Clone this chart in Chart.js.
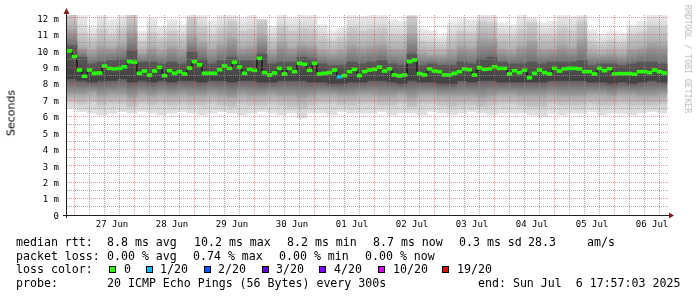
<!DOCTYPE html>
<html><head><meta charset="utf-8">
<script src="https://cdn.jsdelivr.net/npm/chart.js@4/dist/chart.umd.min.js"></script>
<style>
html,body{margin:0;padding:0;background:#fff;}
#wrap{position:relative;width:697px;height:297px;overflow:hidden;background:#fff;}
canvas{position:absolute;left:0;top:0;}
.t{position:absolute;white-space:pre;font-family:'DejaVu Sans Mono',monospace;font-size:11.6px;line-height:14px;color:#000;}
.sq{position:absolute;width:7px;height:7px;box-sizing:border-box;border:1px solid #000;}
#ylab{position:absolute;left:11px;top:113px;transform:translate(-50%,-50%) rotate(-90deg);font-family:'DejaVu Sans',sans-serif;font-size:11px;white-space:nowrap;color:#000;}
#wm{position:absolute;left:688px;top:59px;transform:translate(-50%,-50%) rotate(90deg);font-family:'DejaVu Sans Mono',monospace;font-size:8.2px;white-space:nowrap;color:#b8b8b8;}
</style></head><body>
<div id="wrap">
<canvas id="c" width="697" height="297"></canvas>
<div id="ylab">Seconds</div>
<div id="wm">RRDTOOL / TOBI OETIKER</div>
<div class="t" style="left:16px;top:234.5px">median rtt:</div>
<div class="t" style="left:107px;top:234.5px">8.8 ms avg</div>
<div class="t" style="left:194px;top:234.5px">10.2 ms max</div>
<div class="t" style="left:287px;top:234.5px">8.2 ms min</div>
<div class="t" style="left:373px;top:234.5px">8.7 ms now</div>
<div class="t" style="left:459px;top:234.5px">0.3 ms sd</div>
<div class="t" style="left:528px;top:234.5px">28.3</div>
<div class="t" style="left:587px;top:234.5px">am/s</div>
<div class="t" style="left:16px;top:248.5px">packet loss:</div>
<div class="t" style="left:107px;top:248.5px">0.00 % avg</div>
<div class="t" style="left:193px;top:248.5px">0.74 % max</div>
<div class="t" style="left:279px;top:248.5px">0.00 % min</div>
<div class="t" style="left:365px;top:248.5px">0.00 % now</div>
<div class="t" style="left:16px;top:262px">loss color:</div>
<div id="lossKey"></div>
<div class="t" style="left:16px;top:275.5px">probe:</div>
<div class="t" style="left:107px;top:275.5px">20 ICMP Echo Pings (56 Bytes) every 300s</div>
<div class="t" style="left:478px;top:275.5px">end: Sun Jul  6 17:57:03 2025</div>
</div>
<script>
// ---- data (hours since 26 Jun 18:00) ----
const dayLabels = ['27 Jun','28 Jun','29 Jun','30 Jun','01 Jul','02 Jul','03 Jul','04 Jul','05 Jul','06 Jul'];
const yTickLabels = ['0','1 m','2 m','3 m','4 m','5 m','6 m','7 m','8 m','9 m','10 m','11 m','12 m'];

// median rtt (ms), one value per 2 h
const medianMs = [
 10.0,9.65,8.83,8.45,8.83,8.63,8.65,9.07,8.93,8.9,8.93,9.03,9.34,9.3,8.63,8.77,8.53,8.77,8.99,8.49,8.79,8.63,8.73,8.59,8.95,9.34,9.15,8.63,8.63,8.63,
 8.85,9.07,8.93,9.3,9.01,8.63,8.87,8.81,9.54,8.67,8.53,8.65,8.93,8.59,8.93,8.73,9.24,9.18,8.81,9.24,8.59,8.63,8.67,8.83,8.42,8.49,8.73,8.87,8.49,8.73,8.83,
 8.87,9.0,8.77,8.9,8.53,8.47,8.53,9.34,9.44,8.61,8.53,8.9,8.77,8.73,8.53,8.53,8.63,8.73,8.9,8.85,8.53,8.97,8.87,8.9,9.03,8.93,8.93,8.59,8.79,8.67,
 8.81,8.36,8.63,8.83,8.67,8.59,8.93,8.77,8.9,8.93,8.93,8.9,8.73,8.73,8.59,8.93,8.79,8.91,8.59,8.61,8.61,8.61,8.57,8.73,8.73,8.67,8.83,8.73,8.65
];
// lost pings (of 20), one value per 2 h
const lossCount = [
 0,0,0,0,0,0,0,0,0,0,0,0,0,0,0,0,0,0,0,0,0,0,0,0,0,0,0,0,0,0,
 0,0,0,0,0,0,0,0,0,0,0,0,0,0,0,0,0,0,0,0,0,0,0,0,1,0,0,0,0,0,
 0,0,0,0,0,0,0,0,0,0,0,0,0,0,0,0,0,0,0,0,0,0,0,0,0,0,0,0,0,0,
 0,0,0,0,0,0,0,0,0,0,0,0,0,0,0,0,0,0,0,0,0,0,0,0,0,0,0,0,0,0
];

// smoke (ping distribution, ms), one value per 4 h
const smokeMax = [
 12.2,12.2,11.4,12.2,11.9,12.2,12.2,11.2,12.0,11.5,11.9,11.6,12.2,12.2,11.8,
 12.2,12.2,12.0,12.2,11.6,11.5,12.2,12.0,12.2,12.2,11.6,11.2,11.4,12.2,12.1,
 12.2,12.2,11.9,11.8,12.2,11.3,11.2,10.9,11.7,12.0,11.9,12.2,12.2,11.7,11.6,
 12.2,12.0,11.7,11.8,12.2,12.1,12.2,11.3,11.0,11.2,11.1,11.6,11.8,12.2,12.2
];
const smokeHi1 = [
 12.2,11.1,10.8,11.3,11.0,11.4,12.2,10.6,11.1,10.8,11.2,10.9,12.0,11.5,11.0,
 11.4,11.8,11.2,11.3,11.9,10.8,11.5,11.2,11.4,11.3,10.9,10.6,10.8,11.4,11.2,
 11.3,11.4,11.0,11.0,12.1,10.6,10.5,10.4,10.9,11.2,11.1,11.8,11.7,11.0,10.9,
 11.3,11.7,11.0,11.0,11.4,11.2,11.8,10.6,10.4,10.6,10.5,11.0,11.1,11.5,11.4
];
const smokeHi2 = [
 11.3,10.2,10.0,10.3,10.2,10.4,11.2,9.9,10.2,10.0,10.3,10.1,10.9,10.5,10.1,
 10.4,10.8,10.2,10.3,10.9,10.0,10.5,10.2,10.4,10.3,10.0,9.9,10.0,10.4,10.2,
 10.3,10.4,10.1,10.1,11.0,9.9,9.8,9.8,10.0,10.3,10.2,10.8,10.7,10.1,10.0,
 10.3,10.6,10.1,10.1,10.4,10.2,10.7,9.9,9.8,9.9,9.8,10.1,10.2,10.5,10.4
];
const smokeCoreHi = [
 10.3,9.6,9.2,9.3,9.4,9.5,10.0,9.3,9.3,9.2,9.3,9.2,9.9,9.5,9.2,
 9.4,9.6,9.4,9.4,9.8,9.2,9.3,9.3,9.6,9.5,9.2,9.1,9.1,9.3,9.2,
 9.3,9.4,9.2,9.1,9.8,9.1,9.2,9.1,9.1,9.3,9.2,9.5,9.6,9.3,9.2,
 9.2,9.3,9.2,9.3,9.3,9.3,9.4,9.1,9.2,9.2,9.1,9.2,9.3,9.3,9.2
];
const smokeCoreLo = [
 8.3,8.2,8.1,8.2,8.2,8.3,8.1,8.2,8.1,8.2,8.1,8.2,8.2,8.1,8.2,
 8.2,8.1,8.2,8.2,8.1,8.1,8.2,8.2,8.2,8.1,8.1,8.0,8.0,8.1,8.1,
 8.2,8.2,8.1,8.0,8.2,8.1,8.1,8.0,8.0,8.2,8.1,8.2,8.2,8.1,8.1,
 8.1,8.1,8.1,8.2,8.2,8.2,8.2,8.1,8.1,8.0,8.1,8.0,8.1,8.2,8.1
];
const smokeLo2 = [
 7.4,7.4,7.5,7.3,7.4,7.4,7.2,7.4,7.3,7.4,7.3,7.4,7.3,7.3,7.4,
 7.3,7.2,7.4,7.3,7.3,7.4,7.3,7.3,7.2,7.3,7.4,7.4,7.3,7.3,7.4,
 7.4,7.3,7.3,7.4,7.2,7.4,7.4,7.3,7.3,7.3,7.3,7.2,7.3,7.4,7.4,
 7.3,7.3,7.3,7.4,7.3,7.3,7.3,7.4,7.4,7.3,7.4,7.4,7.3,7.3,7.4
];
const smokeLo1 = [
 6.9,6.8,6.9,6.7,6.8,6.8,6.6,6.8,6.7,6.8,6.7,6.8,6.7,6.7,6.8,
 6.7,6.6,6.8,6.7,6.7,6.8,6.7,6.6,6.5,6.7,6.8,6.8,6.7,6.7,6.8,
 6.8,6.7,6.7,6.8,6.6,6.8,6.8,6.7,6.6,6.7,6.7,6.6,6.7,6.8,6.8,
 6.7,6.6,6.6,6.8,6.7,6.7,6.7,6.8,6.7,6.7,6.8,6.7,6.7,6.7,6.8
];
const smokeMin = [
 6.5,6.3,6.2,6.1,6.2,6.3,6.2,6.3,6.2,6.1,6.2,6.3,6.2,6.1,6.2,
 6.3,6.2,6.1,6.2,6.3,6.2,6.1,6.2,5.9,6.2,6.2,6.1,6.3,6.2,6.2,
 6.2,6.3,6.1,6.2,6.2,6.1,6.3,6.2,6.1,6.2,6.3,6.2,6.1,6.2,6.2,
 6.2,6.1,6.0,6.2,6.1,6.2,6.2,6.3,6.1,6.2,6.2,6.1,6.2,6.3,6.2
];

const lossLevels = [0,1,2,3,4,10,19];
const lossLabels = ['0','1/20','2/20','3/20','4/20','10/20','19/20'];
const lossColors = ['#26ff00','#00b8ff','#0059ff','#5e00ff','#7e00ff','#dd00ff','#ff0000'];

// ---- layout / style ----
const lossKeyX = [109,146,204,262,319,378,442];
const lossKeyTextX = [124,160,218,276,334,393,457];
const HOURS = 240.8, MED_STEP = 2, SMOKE_STEP = 4;
const gridGray = 'rgba(143,143,143,0.75)';
const gridRed = 'rgba(222,79,79,0.6)';

// loss key
const key = document.getElementById('lossKey');
lossLabels.forEach((lab, i) => {
  const s = document.createElement('div');
  s.className = 'sq'; s.style.left = lossKeyX[i] + 'px'; s.style.top = '266px';
  s.style.background = lossColors[i]; key.appendChild(s);
  const t = document.createElement('div');
  t.className = 't'; t.style.left = lossKeyTextX[i] + 'px'; t.style.top = '262px';
  t.textContent = lab; key.appendChild(t);
});

function lossColor(n) {
  let c = lossColors[0];
  lossLevels.forEach((lv, i) => { if (n >= lv) c = lossColors[i]; });
  return c;
}

const smokeX = j => SMOKE_STEP / 2 + SMOKE_STEP * j;
const medX = k => MED_STEP / 2 + MED_STEP * k;
function band(lo, hi) { return lo.map((v, j) => ({x: smokeX(j), y: [v, hi[j]]})); }

// vertical gradient for one smoke band, darkening toward the next inner band
function bandFill(lo, hi, inLo, inHi, cTop, cInTop, cInBot, cBot, fallback) {
  return (c) => {
    const chart = c.chart, ys = chart.scales && chart.scales.y;
    if (c.type !== 'data' || !ys || !chart.chartArea) return fallback;
    const j = c.dataIndex;
    const pTop = ys.getPixelForValue(hi[j]), pBot = ys.getPixelForValue(lo[j]);
    if (!(pBot > pTop)) return fallback;
    const f = v => Math.min(1, Math.max(0, (ys.getPixelForValue(v) - pTop) / (pBot - pTop)));
    const g = chart.ctx.createLinearGradient(0, pTop, 0, pBot);
    g.addColorStop(0, cTop);
    g.addColorStop(f(inHi[j]), cInTop);
    g.addColorStop(f(inLo[j]), cInBot);
    g.addColorStop(1, cBot);
    return g;
  };
}

const smokeCommon = {type: 'bar', grouped: false, barThickness: 10, borderWidth: 0};
const datasets = [
  Object.assign({}, smokeCommon, {label: 'median', data: medianMs.map((m, k) => ({x: medX(k), y: [m - 0.09, m + 0.09]})),
    backgroundColor: lossCount.map(lossColor), barThickness: 5, order: 0}),
  {type: 'line', label: 'median line', data: medianMs.map((m, k) => ({x: medX(k), y: m})), stepped: 'middle',
    borderColor: '#000', borderWidth: 1, pointRadius: 0, order: 1},
  Object.assign({}, smokeCommon, {label: 'core', data: band(smokeCoreLo, smokeCoreHi),
    backgroundColor: bandFill(smokeCoreLo, smokeCoreHi, smokeCoreLo, smokeCoreHi, '#585858', '#585858', '#404040', '#404040', '#4a4a4a'), order: 2}),
  Object.assign({}, smokeCommon, {label: 'mid', data: band(smokeLo2, smokeHi2),
    backgroundColor: bandFill(smokeLo2, smokeHi2, smokeCoreLo, smokeCoreHi, '#a8a8a8', '#6c6c6c', '#5c5c5c', '#9c9c9c', '#8e8e8e'), order: 3}),
  Object.assign({}, smokeCommon, {label: 'outer1', data: band(smokeLo1, smokeHi1),
    backgroundColor: bandFill(smokeLo1, smokeHi1, smokeLo2, smokeHi2, '#cdcdcd', '#adadad', '#a2a2a2', '#c6c6c6', '#bdbdbd'), order: 4}),
  Object.assign({}, smokeCommon, {label: 'outer', data: band(smokeMin, smokeMax),
    backgroundColor: bandFill(smokeMin, smokeMax, smokeLo1, smokeHi1, '#ebebeb', '#d4d4d4', '#cfcfcf', '#e2e2e2', '#dcdcdc'), order: 5})
];

const axesPlugin = {
  id: 'rrdAxes',
  afterDraw(chart) {
    const {ctx, chartArea: a} = chart;
    ctx.save();
    ctx.strokeStyle = 'rgb(31,31,31)'; ctx.lineWidth = 1;
    ctx.beginPath();
    ctx.moveTo(a.left - 0.5, a.bottom + 3); ctx.lineTo(a.left - 0.5, a.top - 3);
    ctx.moveTo(a.left - 4, a.bottom + 0.5); ctx.lineTo(a.right + 2, a.bottom + 0.5);
    ctx.stroke();
    ctx.fillStyle = 'rgb(128,31,31)';
    ctx.beginPath();
    ctx.moveTo(a.left - 0.5, a.top - 7); ctx.lineTo(a.left - 3.5, a.top - 1); ctx.lineTo(a.left + 2.5, a.top - 1); ctx.closePath(); ctx.fill();
    ctx.beginPath();
    ctx.moveTo(a.right + 5, a.bottom + 0.5); ctx.lineTo(a.right, a.bottom - 2.5); ctx.lineTo(a.right, a.bottom + 3.5); ctx.closePath(); ctx.fill();
    ctx.restore();
  }
};

new Chart(document.getElementById('c'), {
  type: 'bar',
  data: {datasets},
  plugins: [axesPlugin],
  options: {
    responsive: false, animation: false, events: [],
    layout: {padding: {left: 0, right: 28, top: 15, bottom: 0}},
    plugins: {legend: {display: false}, tooltip: {enabled: false}},
    scales: {
      x: {
        type: 'linear', min: 0, max: HOURS, offset: false,
        afterBuildTicks: s => { const t = []; for (let h = 0; h <= 240; h += 6) t.push({value: h}); s.ticks = t; },
        afterFit: s => { s.height = 82; },
        grid: {z: 1, drawTicks: false, lineWidth: 1,
          color: c => ((c.tick && (c.tick.value - 6) % 24 === 0) ? gridRed : gridGray)},
        border: {display: false, dash: [1, 1]},
        ticks: {autoSkip: false, maxRotation: 0, padding: 4, color: '#000',
          font: {family: 'DejaVu Sans Mono', size: 9},
          callback: v => ((v - 18) % 24 === 0 ? dayLabels[(v - 18) / 24] || '' : '')}
      },
      y: {
        type: 'linear', min: 0, max: 12.18,
        afterBuildTicks: s => { const t = []; for (let v = 0; v <= 12; v += 0.5) t.push({value: v}); s.ticks = t; },
        afterFit: s => { s.width = 67; },
        grid: {z: 1, drawTicks: false, lineWidth: 1,
          color: c => ((c.tick && Number.isInteger(c.tick.value)) ? gridRed : gridGray)},
        border: {display: false, dash: [1, 1]},
        ticks: {autoSkip: false, padding: 8, labelOffset: 1.5, color: '#000',
          font: {family: 'DejaVu Sans Mono', size: 9},
          callback: v => (Number.isInteger(v) ? yTickLabels[v] : '')}
      }
    }
  }
});
</script>
</body></html>
